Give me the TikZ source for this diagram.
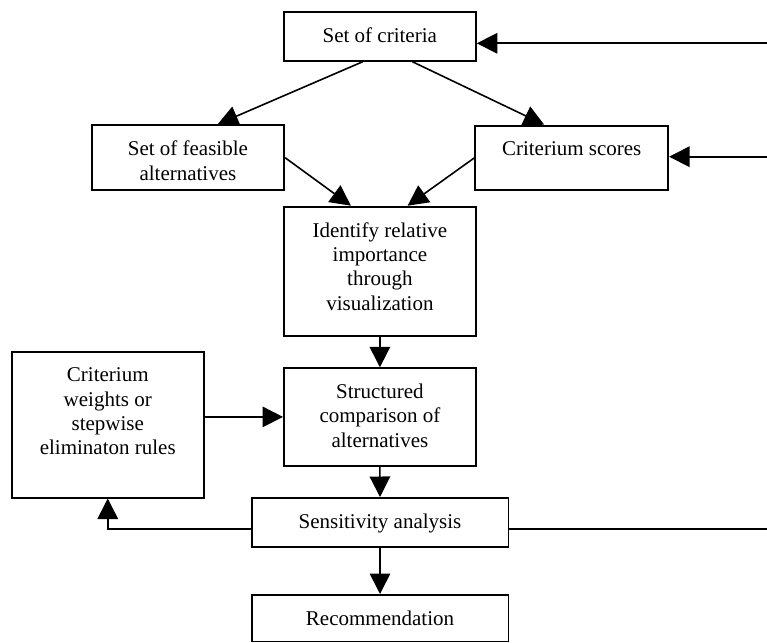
\documentclass[tikz,border=0pt]{standalone}
\usepackage{fontspec}
\setmainfont{Liberation Serif}
\usetikzlibrary{arrows.meta}

\tikzset{
  box/.style={draw, line width=1.8pt, rectangle, anchor=north west, inner sep=0pt},
  lbl/.style={anchor=north, align=center, inner sep=0pt,
              font=\fontsize{21}{24.4}\selectfont},
  flow/.style={line width=1.6pt, -{Triangle[length=20.5pt,width=20.5pt]}},
  plain/.style={line width=1.6pt}
}

\begin{document}
\begin{tikzpicture}[x=1pt, y=-1pt]
\useasboundingbox (0,0) rectangle (767,642);

% boxes
\node[box, minimum width=192.3pt, minimum height=49pt]    (crit)    at (282.7,11)  {};
\node[box, minimum width=192.6pt, minimum height=65pt]    (feas)    at (90.7,124.3) {};
\node[box, minimum width=193pt,   minimum height=64.6pt]  (scores)  at (474.3,124.7) {};
\node[box, minimum width=192pt,   minimum height=129.3pt] (ident)   at (283,205.7) {};
\node[box, minimum width=192pt,   minimum height=97.4pt]  (struct)  at (283,367.3) {};
\node[box, minimum width=191.7pt, minimum height=145.7pt] (weights) at (11,351)    {};
\node[box, minimum width=256.8pt, minimum height=48.7pt]  (sens)    at (250.7,497) {};
\node[box, minimum width=256.8pt, minimum height=46.5pt]  (rec)     at (250.7,594) {};

% box texts, set from the top of each box
\node[lbl] (critT)    at ([yshift=-16.5pt]crit.north)    {Set of criteria};
\node[lbl] (feasT)    at ([yshift=-16.5pt]feas.north)    {Set of feasible\\alternatives};
\node[lbl] (scoresT)  at ([yshift=-16.5pt]scores.north)  {Criterium scores};
\node[lbl] (identT)   at ([yshift=-16.5pt]ident.north)   {Identify relative\\importance\\through\\visualization};
\node[lbl] (structT)  at ([yshift=-16.5pt]struct.north)  {Structured\\comparison of\\alternatives};
\node[lbl] (weightsT) at ([yshift=-16.5pt]weights.north) {Criterium\\weights or\\stepwise\\eliminaton rules};
\node[lbl] (sensT)    at ([yshift=-16.5pt]sens.north)    {Sensitivity analysis};
\node[lbl] (recT)     at ([yshift=-16.5pt]rec.north)     {Recommendation};

% loose ends on the right
\coordinate (inA)  at (767,43.3);
\coordinate (inB)  at (767,156.7);
\coordinate (outS) at (767,529);

% connectors
\draw[flow] ([xshift=-17.2pt]crit.south) -- ([xshift=29.7pt]feas.north);
\draw[flow] ([xshift=32.8pt]crit.south) -- ([xshift=-27.5pt]scores.north);
\draw[flow] (feas.east) -- ([xshift=-29pt]ident.north);
\draw[flow] (scores.west) -- ([xshift=27.7pt]ident.north);
\draw[flow] (ident.south) -- (struct.north);
\draw[flow] (weights.east |- struct.west) -- (struct.west);
\draw[flow] (struct.south) -- (sens.north);
\draw[flow] (sens.south) -- (rec.north);
\draw[flow] (inA) -- (crit.east |- inA);
\draw[flow] (inB) -- (scores.east |- inB);
\draw[plain] (sens.east |- outS) -- (outS);
\draw[flow] (sens.west |- outS) -| (weights.south);
\end{tikzpicture}
\end{document}
